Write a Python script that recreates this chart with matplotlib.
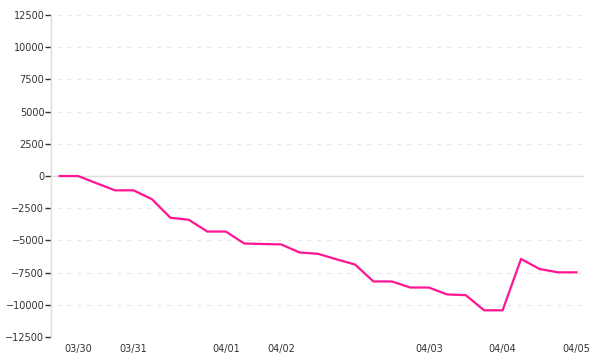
#!/usr/bin/env python3
import numpy as np
import matplotlib
matplotlib.use("Agg")
import matplotlib.pyplot as plt


# ---------------- chart data ----------------
VALUES = [0, 0, -560, -1110, -1110, -1800, -3240, -3400, -4310, -4310,
          -5240, -5280, -5310, -5940, -6040, -6470, -6870, -8190, -8190,
          -8660, -8660, -9200, -9250, -10430, -10430, -6440, -7220, -7480,
          -7480]

DATE_POS = [1, 4, 9, 12, 20, 24, 28]
DATE_LABELS = ["03/30", "03/31", "04/01", "04/02", "04/03", "04/04", "04/05"]

Y_TICKS = list(range(-12500, 12501, 2500))
# --------------------------------------------

LINE_COLOR = "#ff1493"
TEXT_COLOR = "#333333"


def main():
    fig = plt.figure(figsize=(6, 3.6), dpi=100)
    ax = fig.add_axes([0.085, 0.064, 0.888, 0.894])

    x = np.arange(len(VALUES))

    # grid + zero line
    for yv in Y_TICKS:
        if yv == 0:
            ax.axhline(0, color="#dddddd", linewidth=1.0, zorder=1)
        else:
            ax.axhline(yv, xmin=0.012, color="#e6e6e6", linewidth=0.9,
                       linestyle=(0, (3, 5)), zorder=1)

    ax.plot(x, VALUES, color=LINE_COLOR, linewidth=1.6, zorder=3)

    ax.set_xlim(-0.47, 28.4)
    ax.set_ylim(-12500, 12500)

    ax.set_yticks(Y_TICKS)
    ax.set_yticklabels([str(v).replace("-", "\u2212") for v in Y_TICKS])
    ax.set_xticks(DATE_POS)
    ax.set_xticklabels(DATE_LABELS)

    ax.tick_params(axis="y", length=4.3, width=1.0, color=TEXT_COLOR,
                   labelsize=7, labelcolor=TEXT_COLOR, pad=0.5)
    ax.tick_params(axis="x", length=0, labelsize=7, labelcolor=TEXT_COLOR,
                   pad=5)

    for side in ["top", "right", "bottom"]:
        ax.spines[side].set_visible(False)
    ax.spines["left"].set_color("#dddddd")
    ax.spines["left"].set_linewidth(1.0)

    fig.savefig("out.png", dpi=100)
    plt.close()


if __name__ == "__main__":
    main()
